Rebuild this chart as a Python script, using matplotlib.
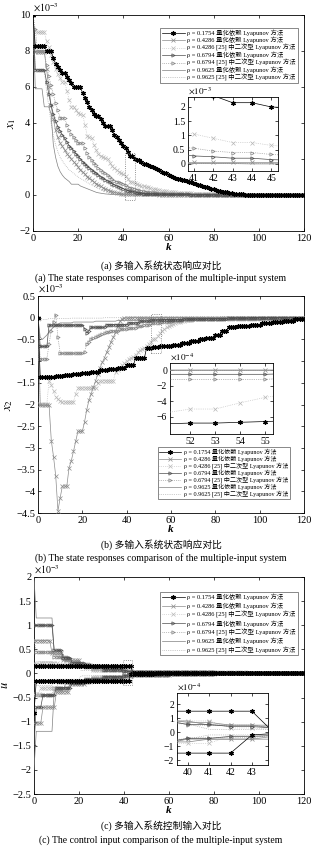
import numpy as np
import matplotlib
matplotlib.use('Agg')
import matplotlib.pyplot as plt
from matplotlib.patches import Rectangle

plt.rcParams['font.family'] = ['Liberation Serif', 'Noto Sans CJK SC']
plt.rcParams['mathtext.fontset'] = 'stix'
plt.rcParams['axes.unicode_minus'] = True

K = np.arange(121)

LABELS = ['ρ = 0.1754 量化依赖 Lyapunov 方法',
          'ρ = 0.4286 量化依赖 Lyapunov 方法',
          'ρ = 0.4286 [25] 中二次型 Lyapunov 方法',
          'ρ = 0.6794 量化依赖 Lyapunov 方法',
          'ρ = 0.6794 [25] 中二次型 Lyapunov 方法',
          'ρ = 0.9625 量化依赖 Lyapunov 方法',
          'ρ = 0.9625 [25] 中二次型 Lyapunov 方法']

# (value, number of samples held) -- x1, unit 1e-3
A1 = [(10, 1), (8.3, 5), (8.0, 3), (7.6, 1), (7.3, 1), (7.1, 1), (6.95, 1), (6.8, 2), (6.55, 1), (6.4, 1),
      (6.25, 1), (6.0, 4), (5.65, 1), (5.4, 1), (5.15, 1), (4.9, 1), (4.7, 1), (4.5, 1), (4.4, 2), (4.2, 1),
      (4.0, 1), (3.85, 3), (3.6, 1), (3.35, 1), (3.2, 1), (3.05, 1), (2.9, 1), (2.75, 1), (2.6, 1), (2.4, 1),
      (2.15, 2), (2.0, 1), (1.97, 2), (1.85, 1), (1.75, 1), (1.7, 1), (1.65, 1), (1.6, 1), (1.55, 1), (1.5, 1),
      (1.45, 1), (1.4, 1), (1.3, 1), (1.25, 1), (1.2, 1), (1.1, 1), (1.05, 1), (1.0, 1), (0.95, 1), (0.9, 1),
      (0.88, 1), (0.86, 1), (0.83, 1), (0.8, 1), (0.75, 1), (0.7, 1), (0.66, 1), (0.62, 1), (0.58, 1),
      (0.54, 1), (0.5, 1), (0.46, 1), (0.42, 1), (0.38, 1), (0.35, 1), (0.32, 1), (0.28, 1), (0.25, 1),
      (0.22, 1), (0.19, 1), (0.16, 1), (0.14, 1), (0.12, 1), (0.1, 1), (0.08, 1), (0.06, 1), (0.05, 1),
      (0.04, 1), (0.03, 1), (0.02, 2), (0.01, 3)]
A2 = [(10, 1), (7.95, 5), (7.0, 1), (6.0, 1), (5.0, 1), (4.2, 1), (3.6, 1), (3.2, 1), (2.9, 1), (2.7, 1),
      (2.5, 1), (2.3, 1), (2.15, 1), (2.0, 1), (1.85, 1), (1.7, 1), (1.55, 1), (1.4, 1), (1.28, 1), (1.15, 1),
      (1.02, 1), (0.92, 1), (0.82, 1), (0.72, 1), (0.63, 1), (0.55, 1), (0.48, 1), (0.4, 1), (0.34, 1),
      (0.28, 1), (0.23, 1), (0.19, 1), (0.15, 1), (0.12, 1), (0.1, 1), (0.08, 1), (0.06, 1), (0.05, 5),
      (0.04, 4), (0.03, 6), (0.02, 8), (0.01, 10)]
A3 = [(10, 1), (9.1, 1), (9.05, 4), (8.55, 1), (8.2, 1), (7.8, 1), (7.4, 1), (7.0, 1), (6.7, 1), (6.5, 1),
      (6.3, 2), (5.8, 1), (5.3, 1), (4.9, 2), (4.7, 1), (4.55, 1), (4.5, 1), (4.45, 1), (3.9, 1), (3.3, 1),
      (3.2, 1), (3.15, 1), (2.8, 1), (2.5, 1), (2.3, 1), (2.15, 1), (2.1, 1), (2.05, 1), (2.0, 1), (1.8, 1),
      (1.6, 1), (1.5, 1), (1.4, 1), (1.3, 1), (1.2, 1), (1.15, 1), (1.05, 1), (0.9, 1), (0.75, 2), (0.65, 1),
      (0.6, 1), (0.55, 1), (0.5, 1), (0.48, 1), (0.45, 1), (0.42, 1), (0.39, 1), (0.36, 1), (0.33, 1),
      (0.3, 1), (0.27, 1), (0.25, 1), (0.23, 1), (0.21, 1), (0.19, 1), (0.17, 1), (0.15, 2), (0.13, 2),
      (0.11, 2), (0.09, 3), (0.07, 3), (0.05, 4), (0.04, 4), (0.03, 5), (0.02, 6), (0.01, 10)]
A4 = [(10, 1), (6.95, 5), (6.3, 1), (5.6, 1), (5.0, 1), (4.5, 1), (4.1, 1), (3.8, 1), (3.55, 1), (3.35, 1),
      (3.15, 1), (2.95, 1), (2.75, 1), (2.6, 1), (2.45, 1), (2.3, 1), (2.15, 1), (2.0, 1), (1.85, 1),
      (1.72, 1), (1.6, 1), (1.5, 1), (1.4, 1), (1.3, 1), (1.2, 1), (1.1, 1), (1.0, 1), (0.92, 1), (0.85, 1),
      (0.78, 1), (0.7, 1), (0.63, 1), (0.56, 1), (0.5, 1), (0.45, 1), (0.4, 1), (0.35, 1), (0.28, 1),
      (0.25, 1), (0.2, 2), (0.15, 1), (0.13, 1), (0.11, 1), (0.09, 1), (0.08, 1), (0.07, 2), (0.06, 3),
      (0.05, 4), (0.04, 5), (0.03, 6), (0.02, 8), (0.01, 10)]
A5 = [(10, 1), (9.2, 1), (8.0, 4), (7.2, 1), (6.6, 1), (6.1, 1), (5.6, 1), (5.1, 1), (4.7, 1), (4.3, 3),
      (3.9, 1), (3.6, 1), (3.4, 1), (3.2, 1), (3.05, 1), (2.9, 3), (2.6, 1), (2.35, 1), (2.1, 1), (1.95, 1),
      (1.8, 1), (1.65, 1), (1.5, 1), (1.4, 1), (1.3, 1), (1.2, 1), (1.1, 1), (1.0, 1), (0.88, 1), (0.8, 1),
      (0.75, 1), (0.7, 1), (0.65, 1), (0.6, 1), (0.55, 1), (0.45, 1), (0.4, 2), (0.33, 1), (0.3, 1),
      (0.27, 1), (0.24, 1), (0.21, 1), (0.18, 1), (0.16, 2), (0.14, 2), (0.12, 2), (0.1, 3), (0.08, 3),
      (0.06, 4), (0.05, 4), (0.04, 5), (0.03, 6), (0.02, 8), (0.01, 10)]
A6 = [(10, 1), (5.9, 4), (4.9, 3), (4.5, 1), (2.8, 1), (2.1, 1), (1.6, 1), (1.3, 1), (1.1, 1), (0.95, 1),
      (0.85, 1), (0.75, 1), (0.6, 4), (0.5, 1), (0.45, 1), (0.4, 1), (0.35, 1), (0.3, 1), (0.25, 1),
      (0.2, 1), (0.15, 1), (0.12, 1), (0.1, 1), (0.08, 1), (0.06, 1), (0.05, 1), (0.04, 1), (0.03, 2),
      (0.02, 3), (0.01, 4)]
A7 = [(10, 1), (6.95, 5), (5.8, 1), (4.9, 1), (4.0, 1), (3.3, 1), (2.8, 1), (2.4, 1), (2.1, 1), (1.9, 1),
      (1.7, 1), (1.55, 1), (1.4, 1), (1.3, 1), (1.2, 1), (1.1, 1), (1.0, 1), (0.92, 1), (0.85, 1), (0.78, 1),
      (0.7, 1), (0.62, 1), (0.55, 1), (0.48, 1), (0.42, 1), (0.36, 1), (0.3, 1), (0.25, 1), (0.2, 1),
      (0.16, 1), (0.12, 1), (0.09, 1), (0.07, 1), (0.05, 1), (0.04, 1), (0.03, 2), (0.02, 3), (0.01, 4)]

# x2, unit 1e-3
B1 = [(0, 1), (-1.37, 3), (-1.36, 4), (-1.34, 4), (-1.32, 4), (-1.3, 4), (-1.27, 4), (-1.24, 4), (-1.21, 4),
      (-1.18, 4), (-1.15, 4), (-1.1, 4), (-0.93, 5), (-0.69, 3), (-0.68, 2), (-0.67, 1), (-0.66, 1),
      (-0.65, 5), (-0.62, 4), (-0.58, 4), (-0.54, 4), (-0.5, 3), (-0.47, 4), (-0.4, 3), (-0.3, 3),
      (-0.22, 4), (-0.19, 6), (-0.16, 5), (-0.13, 5), (-0.1, 5), (-0.07, 5), (-0.04, 5)]
B2 = [(0, 1), (-2.02, 5), (-2.83, 1), (-3.2, 1), (-3.65, 1), (-4.45, 1), (-4.15, 1), (-3.88, 3), (-3.46, 1),
      (-3.3, 1), (-3.08, 1), (-2.85, 1), (-2.62, 3), (-2.4, 1), (-2.12, 1), (-1.9, 1), (-1.75, 1), (-1.6, 1),
      (-1.45, 1), (-1.3, 1), (-1.15, 1), (-1.03, 1), (-0.92, 1), (-0.8, 1), (-0.68, 1), (-0.55, 1),
      (-0.45, 1), (-0.33, 1), (-0.2, 1), (-0.08, 1), (-0.03, 1), (-0.01, 3)]
B3 = [(0, 1), (-1.98, 4), (-1.45, 1), (-1.55, 1), (-1.7, 1), (-1.82, 1), (-1.88, 1), (-1.92, 1), (-1.94, 6),
      (-1.75, 1), (-1.62, 9), (-1.5, 1), (-1.45, 7), (-1.25, 1), (-1.2, 1), (-1.15, 1), (-1.1, 1), (-1.05, 1),
      (-1.0, 1), (-0.95, 1), (-0.92, 1), (-0.9, 1), (-0.85, 1), (-0.8, 1), (-0.75, 1), (-0.72, 1),
      (-0.69, 1), (-0.65, 1), (-0.6, 1), (-0.55, 1), (-0.5, 2), (-0.42, 1), (-0.35, 1), (-0.3, 1),
      (-0.26, 1), (-0.22, 1), (-0.19, 1), (-0.16, 1), (-0.14, 1), (-0.12, 1), (-0.1, 1), (-0.09, 1),
      (-0.08, 1), (-0.07, 1), (-0.06, 1), (-0.05, 2), (-0.04, 3), (-0.03, 4), (-0.02, 6), (-0.01, 8)]
B4 = [(0, 1), (-0.66, 4), (-0.17, 16), (-0.25, 1), (-0.35, 1), (-0.3, 1), (-0.22, 7), (-0.16, 10),
      (-0.12, 5), (-0.08, 5), (-0.055, 5), (-0.045, 10), (-0.03, 10), (-0.02, 10), (-0.01, 10)]
B5 = [(0, 1), (-0.95, 4), (-0.6, 1), (-0.3, 1), (-0.1, 1), (0.07, 1), (-0.45, 1), (-0.82, 11), (-0.8, 1),
      (-0.6, 1), (-0.55, 1), (-0.5, 1), (-0.47, 1), (-0.45, 1), (-0.43, 1), (-0.4, 1), (-0.38, 1),
      (-0.36, 1), (-0.34, 1), (-0.32, 1), (-0.3, 4), (-0.27, 4), (-0.24, 4), (-0.2, 3), (-0.16, 3),
      (-0.12, 5), (-0.1, 5), (-0.08, 5), (-0.06, 5), (-0.04, 10), (-0.03, 10), (-0.02, 10), (-0.01, 11)]
B6 = [(0, 1), (-0.45, 1), (-0.5, 1), (-0.45, 1), (-0.4, 1), (-0.33, 1), (-0.27, 1), (-0.22, 1), (-0.18, 1),
      (-0.15, 1), (-0.12, 6), (-0.1, 10), (-0.08, 10), (-0.06, 10), (-0.02, 5)]
B7 = [(0, 1), (-0.08, 1), (-0.04, 3), (-0.02, 10), (-0.01, 15)]

# u (two channels per case), unit 1e-3
C1 = ([(0.15, 44)],
      [(-0.82, 1), (-0.15, 42), (-0.02, 1), (-0.01, 10)])
C2 = ([(0.68, 8), (0.42, 5), (0.27, 8), (0.15, 10), (0.09, 9), (0.07, 2), (0.05, 2), (0.03, 17), (0.02, 20),
       (0.01, 10)],
      [(-1.03, 4), (-0.7, 6), (-0.38, 6), (-0.22, 7), (-0.13, 8), (-0.08, 9), (-0.05, 4), (-0.03, 17),
       (-0.015, 20)])
C3 = ([(0.2, 3), (0.22, 8), (0.18, 15), (0.08, 16), (0.03, 2), (0.02, 17), (0.01, 10)],
      [(-0.43, 3), (-0.3, 8), (-0.18, 15), (-0.08, 16), (-0.025, 2), (-0.02, 17), (-0.01, 10)])
C4 = ([(1.0, 9), (0.48, 4), (0.33, 4), (0.22, 6), (0.14, 8), (0.08, 9), (0.055, 2), (0.04, 2), (0.03, 17),
       (0.02, 20), (0.01, 10)],
      [(-1.48, 1), (-0.7, 3), (-0.45, 6), (-0.3, 7), (-0.2, 6), (-0.12, 8), (-0.07, 9), (-0.045, 2),
       (-0.03, 2), (-0.025, 17), (-0.015, 20)])
C5 = ([(0.7, 1), (0.45, 8), (0.35, 7), (0.2, 10), (0.1, 14), (0.05, 4), (0.03, 27), (0.02, 25)],
      [(-0.45, 9), (-0.3, 7), (-0.18, 10), (-0.1, 14), (-0.04, 4), (-0.02, 27), (-0.01, 10)])
C6 = ([(2.0, 1), (1.15, 8), (0.4, 5), (0.25, 7), (0.15, 10), (0.08, 10), (0.05, 10), (0.03, 20), (0.015, 20)],
      [(-2.0, 1), (-1.2, 8), (-0.35, 5), (-0.22, 7), (-0.13, 10), (-0.07, 10), (-0.05, 10), (-0.03, 20),
       (-0.015, 20)])
C7 = ([(0.2, 1), (0.25, 8), (0.15, 12), (0.06, 20), (0.02, 20)],
      [(-0.2, 1), (-0.25, 8), (-0.12, 12), (-0.05, 20), (-0.02, 20)])

STYLES = [
    dict(color='k', ls='-', marker=(6, 2, 0), ms=3.2, mew=0.9, zorder=9),
    dict(color='0.55', ls='-', marker='x', ms=2.4, mew=0.5, zorder=7),
    dict(color='0.72', ls=':', marker='x', ms=2.4, mew=0.5, zorder=6),
    dict(color='0.3', ls='-', marker='>', ms=2.4, mew=0.5, mfc='none', zorder=8),
    dict(color='0.5', ls=':', marker='>', ms=2.4, mew=0.5, mfc='none', zorder=5),
    dict(color='0.5', ls='-', marker='None', zorder=4),
    dict(color='0.62', ls=':', marker='None', zorder=3),
]


def expand(pairs):
    vals = np.repeat([v for v, n in pairs], [n for v, n in pairs])[:K.size]
    return np.concatenate([vals, np.zeros(K.size - vals.size)])


def style_axes(ax, size=7.5):
    ax.tick_params(direction='in', top=True, right=True, length=2.5, width=0.5,
                   labelsize=size, pad=2)
    for s in ax.spines.values():
        s.set_linewidth(0.6)


def px(x, y, w, h):
    # pixel box (top-left origin) -> figure fraction
    return [x / 322, 1 - (y + h) / 851, w / 322, h / 851]


fig = plt.figure(figsize=(3.22, 8.51), dpi=100)


def panel(box, series, scale, ylim, yticks, ylabel, inset_box, inset_xlim, inset_ylim,
          inset_xticks, inset_yticks, inset_scale, inset_exp, leg_corner, leg_size, leg_space, caps, capy):
    ax = fig.add_axes(px(*box))
    handles = []
    for curves, st in zip(series, STYLES):
        for j, c in enumerate(curves):
            ln, = ax.plot(K, expand(c), lw=0.5, **st)
            if j == 0:
                handles.append(ln)
    ax.set_xlim(0, 120)
    ax.set_ylim(*ylim)
    ax.set_xticks(np.arange(0, 121, 20))
    ax.set_yticks(yticks)
    ax.set_yticklabels([('%g' % t).replace('-', '\u2212') for t in yticks])
    style_axes(ax)
    ax.set_xlabel('k', fontstyle='italic', fontweight='bold', fontsize=8, labelpad=0)
    ax.set_ylabel(ylabel, fontsize=9, labelpad=1)
    ax.text(0.0, 1.005, r'$\times10^{-3}$', transform=ax.transAxes, fontsize=7, va='bottom', ha='left')
    ax.add_patch(Rectangle((inset_xlim[0], inset_ylim[0] / inset_scale),
                           inset_xlim[1] - inset_xlim[0], (inset_ylim[1] - inset_ylim[0]) / inset_scale,
                           fill=False, ls=':', lw=0.6, ec='0.45', zorder=10))
    leg = ax.legend(handles, LABELS, loc='upper right', bbox_to_anchor=leg_corner,
                    bbox_transform=fig.transFigure, fontsize=leg_size, numpoints=1,
                    fancybox=False, edgecolor='0.35', framealpha=1, borderpad=0.3,
                    labelspacing=leg_space, handlelength=3.6, handletextpad=0.4, borderaxespad=0)
    leg.get_frame().set_linewidth(0.5)
    leg.set_zorder(20)

    ins = fig.add_axes(px(*inset_box))
    for curves, st in zip(series, STYLES):
        for c in curves:
            ins.plot(K, expand(c) * inset_scale, lw=0.5, **st)
    ins.set_xlim(*inset_xlim)
    ins.set_ylim(*inset_ylim)
    ins.set_xticks(inset_xticks)
    ins.set_yticks(inset_yticks)
    ins.set_yticklabels([('%g' % t).replace('-', '\u2212') for t in inset_yticks])
    style_axes(ins, 7)
    ins.text(0.0, 1.01, r'$\times10^{-%d}$' % inset_exp, transform=ins.transAxes, fontsize=6.5,
             va='bottom', ha='left')

    for txt, y in zip(caps, capy):
        fig.text(0.5, 1 - y / 851, txt, ha='center', va='center', fontsize=7)


panel((33, 15, 271, 216), [[A1], [A2], [A3], [A4], [A5], [A6], [A7]], 1,
      (-2, 10), np.arange(-2, 11, 2), '$x_1$',
      (188, 97, 90, 74), (40.7, 45.35), (-0.25, 2.35), [41, 42, 43, 44, 45], [0, 0.5, 1, 1.5, 2], 1, 3,
      (298 / 322, 1 - 28 / 851), 4.6, 0.08,
      ['(a) 多输入系统状态响应对比', '(a) The state responses comparison of the multiple-input system'],
      [266, 278])

panel((38, 296, 266, 217), [[B1], [B2], [B3], [B4], [B5], [B6], [B7]], 1,
      (-4.5, 0.5), np.arange(-4.5, 0.51, 0.5), '$x_2$',
      (170, 363, 103, 71), (51.2, 55.3), (-8.2, 0.9), [52, 53, 54, 55], [-6, -4, -2, 0], 10, 4,
      (290 / 322, 1 - 447 / 851), 4.4, 0.08,
      ['(b) 多输入系统状态响应对比', '(b) The state responses comparison of the multiple-input system'],
      [545, 558])

panel((34, 577, 270, 217), [C1, C2, C3, C4, C5, C6, C7], 1,
      (-2.5, 2), np.arange(-2.5, 2.01, 0.5), '$u$',
      (177, 693, 91, 72), (39.5, 43.75), (-2.35, 2.8), [40, 41, 42, 43], [-2, -1, 0, 1, 2], 10, 4,
      (298 / 322, 1 - 592 / 851), 4.6, 0.3,
      ['(c) 多输入系统控制输入对比', '(c) The control input comparison of the multiple-input system'],
      [826, 840])

fig.savefig('out.png', dpi=100)
